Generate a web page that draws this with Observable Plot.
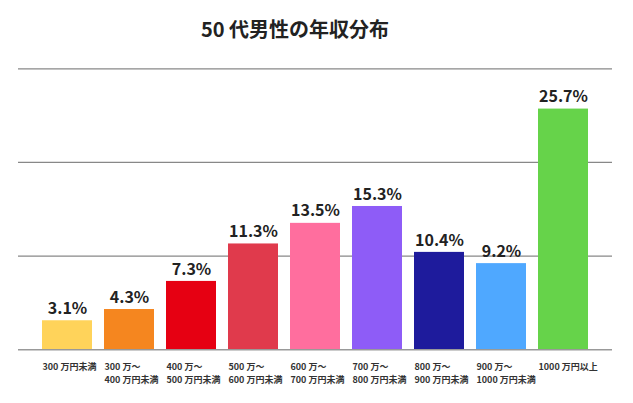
<!DOCTYPE html>
<html><head><meta charset="utf-8">
<script src="https://cdn.jsdelivr.net/npm/d3@7"></script>
<script src="https://cdn.jsdelivr.net/npm/@observablehq/plot@0.6"></script>
<style>
html,body{margin:0;padding:0;background:#fff;}
#wrap{width:633px;height:403px;position:relative;overflow:hidden;font-family:"Noto Sans CJK JP","Noto Sans",sans-serif;}
#title{width:590px;height:56px;line-height:57px;text-align:center;font-size:20px;font-weight:700;color:#222;}
</style></head>
<body><div id="wrap"><div id="title">50 代男性の年収分布</div><div id="chart"></div></div>
<script>
const categories = ["300万円未満","300万～400万円未満","400万～500万円未満","500万～600万円未満","600万～700万円未満","700万～800万円未満","800万～900万円未満","900万～1000万円未満","1000万円以上"];
const tickLine1 = ["300 万円未満","300 万～","400 万～","500 万～","600 万～","700 万～","800 万～","900 万～","1000 万円以上"];
const tickLine2 = ["","400 万円未満","500 万円未満","600 万円未満","700 万円未満","800 万円未満","900 万円未満","1000 万円未満",""];
const values = [3.1, 4.3, 7.3, 11.3, 13.5, 15.3, 10.4, 9.2, 25.7];
const colors = ["#FFD35A","#F5861F","#E60012","#E03A4C","#FF6E9E","#8E5CF7","#1E1B9C","#4FA8FF","#66D34A"];
const gridTicks = [10, 20, 30];

const data = categories.map((c, i) => ({cat: c, l1: tickLine1[i], l2: tickLine2[i], value: values[i], color: colors[i]}));

const plot = Plot.plot({
  width: 633,
  height: 347,
  marginTop: 12.3,
  marginBottom: 53.7,
  marginLeft: 18,
  marginRight: 21,
  style: {fontFamily: '"Noto Sans CJK JP","Noto Sans",sans-serif', background: "#fff"},
  x: {domain: categories, paddingInner: 0.2, paddingOuter: 0.345, axis: null},
  y: {domain: [0, 30], axis: null},
  marks: [
    Plot.ruleY(gridTicks, {stroke: "#888", strokeWidth: 1.2}),
    Plot.barY(data, {x: "cat", y: "value", fill: "color"}),
    Plot.ruleY([0], {stroke: "#999", strokeWidth: 1.5}),
    Plot.text(data, {x: "cat", y: "value", text: d => d.value.toFixed(1) + "%", dy: -12, fontSize: 16, fontWeight: 600, fill: "#222"}),
    Plot.text(data, {x: "cat", y: 0, text: "l1", textAnchor: "start", dx: -25, dy: 17.5, fontSize: 9, fontWeight: 700, fill: "#333"}),
    Plot.text(data.filter(d => d.l2), {x: "cat", y: 0, text: "l2", textAnchor: "start", dx: -25, dy: 30.5, fontSize: 9, fontWeight: 700, fill: "#333"})
  ]
});
document.getElementById("chart").appendChild(plot);
</script></body></html>
